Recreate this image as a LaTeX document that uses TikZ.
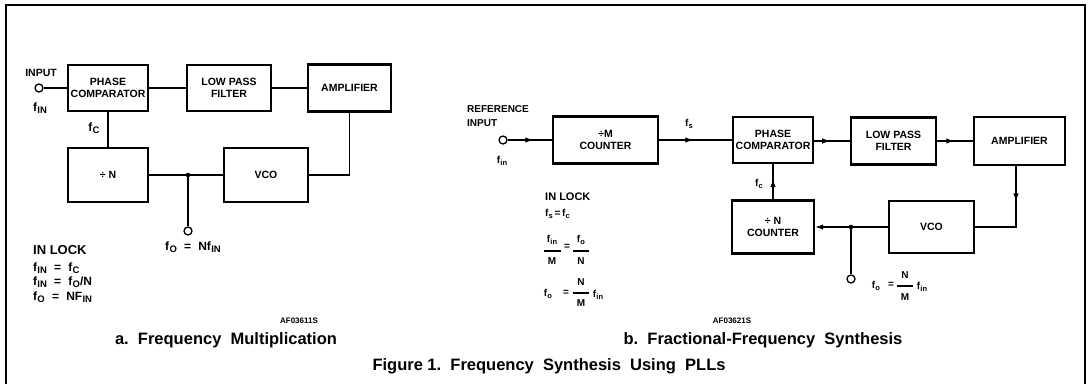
\documentclass[tikz,border=0pt]{standalone}
\usepackage{fontspec}
\setmainfont{Liberation Sans}
\usetikzlibrary{arrows.meta,calc}
\newcommand{\lblfont}{\fontsize{10.5}{12}\selectfont\bfseries}
\newcommand{\rlblfont}{\fontsize{10}{12}\selectfont\bfseries}
\newcommand{\capfont}{\fontsize{16.5}{18}\selectfont\bfseries}
\newcommand{\lockfont}{\fontsize{13}{14}\selectfont\bfseries}
\newcommand{\rlockfont}{\fontsize{11}{13}\selectfont\bfseries}
\newcommand{\eqfont}{\fontsize{12}{14}\selectfont\bfseries}
\newcommand{\smallfont}{\fontsize{8}{9}\selectfont\bfseries}
\newcommand{\bsub}[1]{\kern0.3pt\raisebox{-2.6pt}{\fontsize{9.5}{10}\selectfont #1}}
\newcommand{\rsub}[1]{\kern0.2pt\raisebox{-2pt}{\fontsize{7.5}{8}\selectfont #1}}
\newcommand{\beq}{\hspace{0.6em}=\hspace{0.6em}}
\begin{document}
\begin{tikzpicture}[x=1pt,y=-1pt,
  blk/.style={draw,line width=2.4pt,inner sep=0pt,align=center,font=\lblfont},
  wire/.style={line width=1.1pt},
  awire/.style={line width=1.1pt,-{Latex[length=8pt,width=5.5pt]}},
  circ/.style={circle,draw,line width=1.3pt,minimum size=8pt,inner sep=0pt},
  txt/.style={inner sep=0pt,font=\lblfont},
  rtxt/.style={inner sep=0pt,font=\rlblfont},
  eqtxt/.style={inner sep=0pt,font=\eqfont,anchor=west},
  captxt/.style={inner sep=0pt,font=\capfont},
  tinytxt/.style={inner sep=0pt,font=\smallfont},
  fracbar/.style={line width=1.3pt}]
\useasboundingbox (0,0) rectangle (1091,384);
% frame
\draw[line width=1.4pt] (6,384) -- (6,5) -- (1085,5) -- (1085,384);

% ---------------- left diagram ----------------
\node[blk,minimum width=80pt,minimum height=46pt] (pc1) at (108,88) {PHASE\\COMPARATOR};
\node[blk,minimum width=84pt,minimum height=46pt] (lpf1) at (229,88) {LOW PASS\\FILTER};
\node[blk,minimum width=83pt,minimum height=47pt] (amp1) at (349.5,88) {AMPLIFIER};
\node[blk,minimum width=80pt,minimum height=54pt] (dn1) at (108,175) {÷ N};
\node[blk,minimum width=84pt,minimum height=54pt] (vco1) at (266,175) {VCO};
\node[circ] (in1) at (39,88) {};
\node[circ] (out1) at (188,231) {};
\coordinate (j1) at (188,175);

\draw[wire] (in1) -- (pc1);
\draw[wire] (pc1) -- (lpf1);
\draw[wire] (lpf1) -- (amp1);
\draw[wire] (pc1) -- (dn1);
\draw[wire] (amp1.south) |- (vco1.east);
\draw[wire] (dn1) -- (vco1);
\draw[wire] (j1) -- (out1);
\fill (j1) circle (2.3pt);

\node[txt] (inlbl1) at (41,73) {INPUT};
\node[inner sep=0pt,font=\eqfont] (fin1) at (40,108) {f\bsub{IN}};
\node[inner sep=0pt,font=\eqfont] (fc1) at (94,128) {f\bsub{C}};
\node[inner sep=0pt,font=\eqfont] (fo1) at (193,247) {f\bsub{O}\beq Nf\bsub{IN}};

\node[inner sep=0pt,font=\lockfont,anchor=west] (lock1) at (33,250) {IN LOCK};
\node[eqtxt] (l1a) at (33,268) {f\bsub{IN}\beq f\bsub{C}};
\node[eqtxt] (l1b) at (33,282) {f\bsub{IN}\beq f\bsub{O}/N};
\node[eqtxt] (l1c) at (33,297) {f\bsub{O}\beq NF\bsub{IN}};

\node[tinytxt] (af1) at (299,321) {AF03611S};
\node[captxt] (capa) at (226,340) {a.\ \ Frequency\ \ Multiplication};

% ---------------- right diagram ----------------
\node[blk,minimum width=105pt,minimum height=47pt] (dm2) at (605.5,140) {÷M\\COUNTER};
\node[blk,minimum width=80pt,minimum height=46pt] (pc2) at (773,140) {PHASE\\COMPARATOR};
\node[blk,minimum width=85pt,minimum height=47pt] (lpf2) at (893.5,141) {LOW PASS\\FILTER};
\node[blk,minimum width=91pt,minimum height=48pt] (amp2) at (1019.5,141) {AMPLIFIER};
\node[blk,minimum width=82pt,minimum height=53pt] (dn2) at (773,227) {÷ N\\COUNTER};
\node[blk,minimum width=85pt,minimum height=52pt] (vco2) at (931.5,227) {VCO};
\node[circ] (in2) at (503,140) {};
\node[circ] (out2) at (851,279) {};
\coordinate (j2) at (851,227);
\coordinate (c2) at (1016,227);
\coordinate (a2) at (amp2.south -| c2);
\coordinate (p2) at (pc2.east |- lpf2.west);

\draw[wire] (in2) -- (dm2);
\draw[awire] (in2.east) -- ($(in2.east)!0.58!(dm2.west)$);
\draw[wire] (dm2) -- (pc2);
\draw[awire] (dm2.east) -- ($(dm2.east)!0.47!(pc2.west)$);
\draw[wire] (p2) -- (lpf2.west);
\draw[awire] (p2) -- ($(p2)!0.45!(lpf2.west)$);
\draw[wire] (lpf2) -- (amp2);
\draw[awire] (lpf2.east) -- ($(lpf2.east)!0.48!(amp2.west)$);
\draw[wire] (a2) -- (c2) -- (vco2.east);
\draw[awire] (a2) -- ($(a2)!0.58!(c2)$);
\draw[awire] (vco2) -- (dn2);
\draw[wire] (dn2) -- (pc2);
\draw[awire] (dn2.north) -- ($(dn2.north)!0.58!(pc2.south)$);
\draw[wire] (j2) -- (out2);
\fill (j2) circle (2.3pt);

\node[rtxt,anchor=west] (ref2) at (467,109) {REFERENCE};
\node[rtxt,anchor=west] (inp2) at (467,123) {INPUT};
\node[rtxt] (fin2) at (502,161) {f\rsub{in}};
\node[rtxt] (fs2) at (689,124) {f\rsub{s}};
\node[rtxt] (fc2) at (759,184) {f\rsub{c}};

% output equation
\node[rtxt] (fo2) at (876,286) {f\rsub{o}};
\node[rtxt] (eq2) at (891,285) {=};
\node[rtxt] (on2) at (905,275) {N};
\node[rtxt] (om2) at (905,297) {M};
\draw[fracbar] (897,286) -- (913,286);
\node[rtxt] (ofin2) at (922,287) {f\rsub{in}};

% in lock block
\node[inner sep=0pt,font=\rlockfont,anchor=west] (lock2) at (545,197) {IN LOCK};
\node[rtxt,anchor=west] (l2a) at (545,214) {f\rsub{s}\,=\,f\rsub{c}};
\node[rtxt] (fa) at (552,240) {f\rsub{in}};
\node[rtxt] (fb) at (552,261) {M};
\draw[fracbar] (544,251) -- (561,251);
\node[rtxt] (fe) at (567,247) {=};
\node[rtxt] (fcn) at (581,240) {f\rsub{o}};
\node[rtxt] (fdn) at (581,261) {N};
\draw[fracbar] (573,251) -- (589,251);
\node[rtxt] (gfo) at (548,294) {f\rsub{o}};
\node[rtxt] (geq) at (566,293) {=};
\node[rtxt] (gn) at (581,282) {N};
\node[rtxt] (gm) at (581,303) {M};
\draw[fracbar] (573,293) -- (589,293);
\node[rtxt] (gfin) at (598,295) {f\rsub{in}};

\node[tinytxt] (af2) at (732,321) {AF03621S};
\node[captxt] (capb) at (763,340) {b.\ \ Fractional-Frequency\ \ Synthesis};

\node[captxt] (fig) at (549,366) {Figure 1.\ \ Frequency\ \ Synthesis\ \ Using\ \ PLLs};
\end{tikzpicture}
\end{document}
